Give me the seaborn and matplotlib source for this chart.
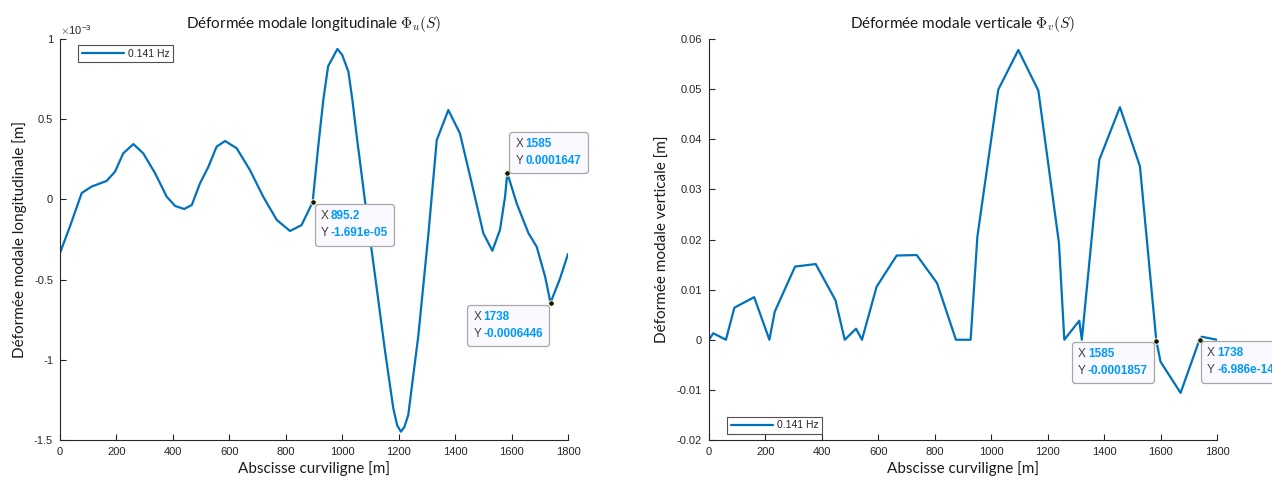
import numpy as np
import pandas as pd
import matplotlib
matplotlib.use("Agg")
import matplotlib.pyplot as plt
import seaborn as sns
from matplotlib.offsetbox import TextArea, HPacker, VPacker, AnnotationBbox

# longitudinal mode shape (values in 1e-3 m)
s_u = [0, 35, 77, 112, 165, 195, 224, 260, 295, 337, 378, 408, 440, 467, 496, 526,
       555, 585, 626, 673, 720, 768, 815, 856, 895.2, 915, 933, 950, 983, 1000, 1022,
       1036, 1051, 1081, 1116, 1152, 1181, 1195, 1208, 1220, 1234, 1270, 1305, 1335,
       1376, 1417, 1459, 1500, 1532, 1559, 1577, 1585, 1618, 1660, 1689, 1719, 1738,
       1772, 1800]
phi_u = [-0.334, -0.17, 0.04, 0.08, 0.115, 0.173, 0.287, 0.345, 0.287, 0.163, 0.017,
         -0.041, -0.06, -0.035, 0.10, 0.204, 0.329, 0.364, 0.319, 0.183, 0.017, -0.128,
         -0.197, -0.16, -0.01691, 0.33, 0.62, 0.83, 0.938, 0.90, 0.796, 0.62, 0.40,
         -0.014, -0.471, -0.949, -1.303, -1.41, -1.448, -1.42, -1.344, -0.845, -0.222,
         0.37, 0.557, 0.412, 0.10, -0.211, -0.32, -0.19, 0.017, 0.1647, -0.024, -0.211,
         -0.295, -0.482, -0.6446, -0.492, -0.34]

# vertical mode shape (m)
s_v = [0, 15, 60, 90, 160, 214, 233, 305, 378, 448, 481, 521, 542, 594, 665, 736, 808,
       875, 927, 951, 1025, 1096, 1167, 1240, 1259, 1312, 1321, 1383, 1456, 1527, 1585,
       1600, 1671, 1738, 1746, 1800]
phi_v = [0, 0.0013, 0, 0.0064, 0.0085, 0, 0.0056, 0.0146, 0.0151, 0.0079, 0, 0.0022,
         0, 0.0106, 0.0168, 0.0169, 0.0113, 0, 0, 0.0206, 0.0499, 0.0578, 0.0497, 0.0193,
         0, 0.0038, 0, 0.0359, 0.0464, 0.0346, -0.0001857, -0.0044, -0.0106, 0, 0.0006, 0]

legend_label = "0.141 Hz"
x_ticks = [0, 200, 400, 600, 800, 1000, 1200, 1400, 1600, 1800]
u_ticks = [-1.5, -1, -0.5, 0, 0.5, 1]
u_ticklabels = ["-1.5", "-1", "-0.5", "0", "0.5", "1"]
v_ticks = [-0.02, -0.01, 0, 0.01, 0.02, 0.03, 0.04, 0.05, 0.06]
v_ticklabels = ["-0.02", "-0.01", "0", "0.01", "0.02", "0.03", "0.04", "0.05", "0.06"]

sns.set_theme(style="ticks")
plt.rcParams["font.family"] = ["Liberation Sans", "DejaVu Sans"]
plt.rcParams["mathtext.fontset"] = "cm"

blue = "#0072BD"
axc = "#262626"
label_font = "Lato"
tick_font = "Liberation Sans"

fig = plt.figure(figsize=(12.72, 4.83), dpi=100)
ax1 = fig.add_axes([60 / 1272, 43 / 483, 508 / 1272, 401 / 483])
ax2 = fig.add_axes([709 / 1272, 43 / 483, 508 / 1272, 401 / 483])

df_u = pd.DataFrame({"s": s_u, "phi": phi_u})
df_v = pd.DataFrame({"s": s_v, "phi": phi_v})
sns.lineplot(data=df_u, x="s", y="phi", ax=ax1, color=blue, lw=1.6, label=legend_label)
sns.lineplot(data=df_v, x="s", y="phi", ax=ax2, color=blue, lw=1.6, label=legend_label)


def datatip(ax, x, y, xs, ys, align, off):
    ax.plot([x], [y], "o", ms=4, mfc="#111111", mec="#ffffcc", mew=0.7, zorder=6)
    rows = []
    for k, v in (("X", xs), ("Y", ys)):
        rows.append(HPacker(children=[
            TextArea(k, textprops=dict(color="#404040", size=8.5, family=tick_font)),
            TextArea(v, textprops=dict(color="#0099FF", size=8.5, weight="bold",
                                       family=tick_font))],
            sep=1.5, pad=0, align="baseline"))
    box = VPacker(children=rows, sep=3.5, pad=4.5, align="left")
    ab = AnnotationBbox(box, (x, y), xybox=off, xycoords="data",
                        boxcoords="offset points", box_alignment=align,
                        frameon=True, pad=0,
                        bboxprops=dict(boxstyle="round,pad=0,rounding_size=0.2",
                                       ec="#a8a8a8", fc="#f9f9ff", lw=0.9))
    ab.set_zorder(7)
    ax.add_artist(ab)


datatip(ax1, 895.2, -0.01691, "895.2", "-1.691e-05", (0, 1), (1.5, -1.5))
datatip(ax1, 1585, 0.1647, "1585", "0.0001647", (0, 0), (1.5, 0))
datatip(ax1, 1738, -0.6446, "1738", "-0.0006446", (1, 1), (-1, -1.5))
datatip(ax2, 1585, -0.0001857, "1585", "-0.0001857", (1, 1), (-1.5, -1))
datatip(ax2, 1738, 0, "1738", "-6.986e-14", (0, 1), (1, -1))

for ax in (ax1, ax2):
    ax.set_xlim(0, 1800)
    ax.set_xticks(x_ticks)
    ax.set_xticklabels([str(t) for t in x_ticks])
    sns.despine(ax=ax)
    for sp in ("left", "bottom"):
        ax.spines[sp].set_color(axc)
        ax.spines[sp].set_linewidth(0.8)
    ax.tick_params(direction="in", length=4, width=0.8, colors=axc, labelsize=8,
                   pad=5, labelcolor=axc)
    ax.set_xlabel("Abscisse curviligne [m]", family=label_font, fontsize=11,
                  color="#1a1a1a", labelpad=3)
    ax.grid(False)

ax1.set_ylim(-1.5, 1)
ax1.set_yticks(u_ticks)
ax1.set_yticklabels(u_ticklabels)
ax1.set_ylabel("Déformée modale longitudinale [m]", family=label_font, fontsize=11,
               color="#1a1a1a", labelpad=5)
ax1.set_title(r"Déformée modale longitudinale $\Phi_u(S)$", family=label_font,
              fontsize=11, color="#1a1a1a", pad=8)
ax1.text(0, 1.004, r"$\times\mathregular{10^{-3}}$", transform=ax1.transAxes,
         ha="left", va="bottom", fontsize=8, color=axc, family=tick_font)

ax2.set_ylim(-0.02, 0.06)
ax2.set_yticks(v_ticks)
ax2.set_yticklabels(v_ticklabels)
ax2.set_ylabel("Déformée modale verticale [m]", family=label_font, fontsize=11,
               color="#1a1a1a", labelpad=5)
ax2.set_title(r"Déformée modale verticale $\Phi_v(S)$", family=label_font,
              fontsize=11, color="#1a1a1a", pad=8)

for ax in (ax1, ax2):
    for lbl in ax.get_xticklabels() + ax.get_yticklabels():
        lbl.set_family(tick_font)

for ax, loc, anchor in ((ax1, "upper left", (0.036, 0.985)), (ax2, "lower left", (0.036, 0.015))):
    leg = ax.legend(loc=loc, bbox_to_anchor=anchor, prop=dict(family=tick_font, size=7.5),
                    frameon=True, fancybox=False, handlelength=4.0, handletextpad=0.4,
                    borderpad=0.35, borderaxespad=0.0)
    leg.get_frame().set_edgecolor("#262626")
    leg.get_frame().set_linewidth(0.8)

fig.savefig("out.png", dpi=100)
